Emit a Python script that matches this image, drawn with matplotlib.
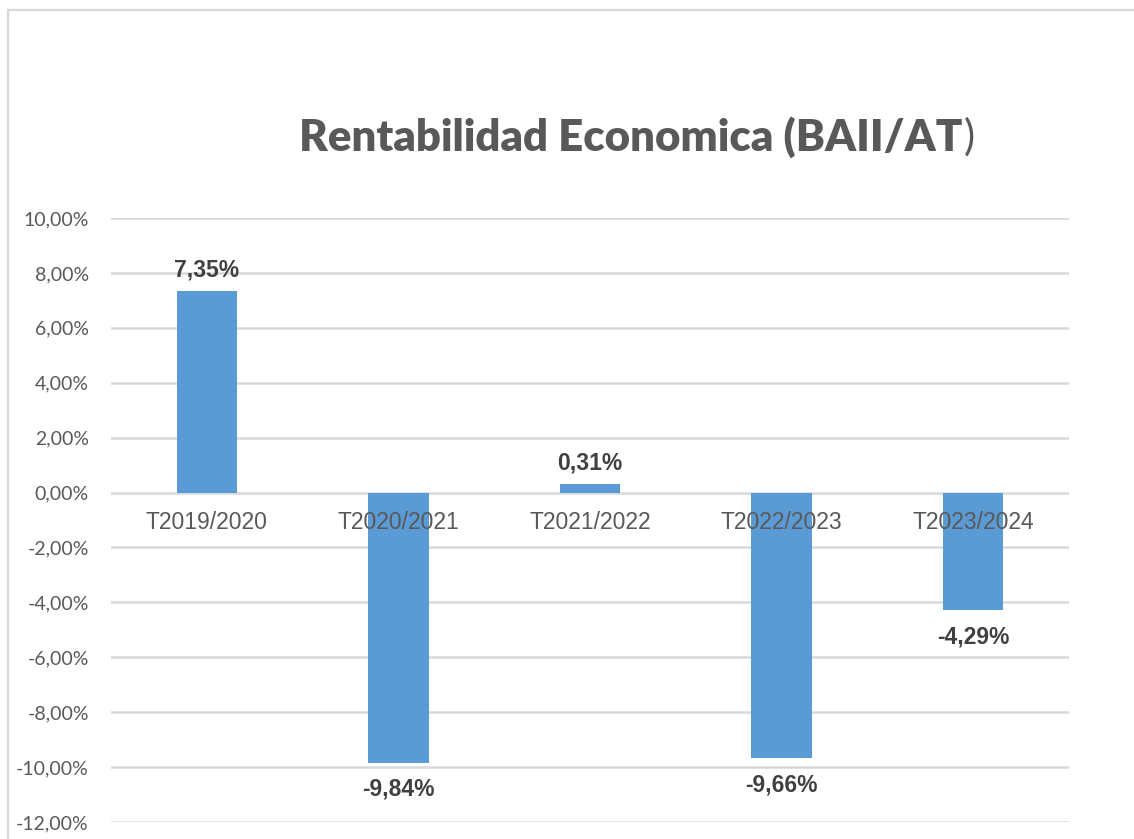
import matplotlib.pyplot as plt
from matplotlib.patches import Rectangle
from matplotlib.ticker import FuncFormatter, MultipleLocator

# ============================================================
# DATA
# ============================================================

periods = ["T2019/2020", "T2020/2021", "T2021/2022", "T2022/2023", "T2023/2024"]
rent_econ = [7.35, -9.84, 0.31, -9.66, -4.29]   # %

TITLE = "Rentabilidad Economica (BAII/AT"

BAR_COLOR = "#5B9BD5"
GRID_COLOR = "#D9D9D9"
TEXT_GRAY = "#595959"
LABEL_DARK = "#404040"


def es_pct(v: float) -> str:
    """7.35 -> '7,35%'"""
    return f"{v:.2f}".replace(".", ",") + "%"


fig = plt.figure(figsize=(11.34, 8.39), dpi=100)

# outer chart frame (left + top visible)
fig.patches.append(Rectangle((8 / 1134, -0.1), 1.2, 1.1 - 10 / 839,
                             transform=fig.transFigure, fill=False,
                             edgecolor=GRID_COLOR, linewidth=1.6))

ax = fig.add_axes([0.0979, 0.0203, 0.8448, 0.7199])

x = list(range(len(periods)))
ax.bar(x, rent_econ, width=0.315, color=BAR_COLOR, zorder=2)

ax.set_xlim(-0.5, len(periods) - 0.5)
ax.set_ylim(-12, 10)
ax.yaxis.set_major_locator(MultipleLocator(2))
ax.yaxis.set_major_formatter(FuncFormatter(lambda v, p: es_pct(v)))
ax.grid(axis="y", color=GRID_COLOR, linewidth=1.8, zorder=0)
ax.set_xticks([])
for s in ax.spines.values():
    s.set_visible(False)
ax.tick_params(axis="y", length=0, pad=16, labelsize=14, labelcolor=TEXT_GRAY)
for lab in ax.get_yticklabels():
    lab.set_fontfamily("Lato")

# category labels sit on the zero line
for xi, name in zip(x, periods):
    ax.annotate(name, (xi, 0), xytext=(0, -13), textcoords="offset points",
                ha="center", va="top", fontsize=16.5, color=TEXT_GRAY,
                family="Liberation Sans", zorder=3)

# data labels
for xi, v in zip(x, rent_econ):
    if v >= 0:
        ax.annotate(es_pct(v), (xi, v), xytext=(0, 7), textcoords="offset points",
                    ha="center", va="bottom", fontsize=16.5, weight="bold",
                    color=LABEL_DARK, family="Liberation Sans", zorder=3)
    else:
        ax.annotate(es_pct(v), (xi, v), xytext=(0, -11), textcoords="offset points",
                    ha="center", va="top", fontsize=16.5, weight="bold",
                    color=LABEL_DARK, family="Liberation Sans", zorder=3)

# title: bold text + regular closing bracket
t = fig.text(0.556, 1 - 137 / 839, TITLE, ha="center", va="center",
             fontsize=31.5, weight="heavy", color=TEXT_GRAY, family="Lato")
ax.annotate(")", xy=(1, 0.5), xycoords=t, xytext=(1, 0), textcoords="offset points",
            ha="left", va="center", fontsize=30, color=TEXT_GRAY, family="Lato",
            annotation_clip=False)

fig.savefig("out.png", dpi=100, facecolor="white")
